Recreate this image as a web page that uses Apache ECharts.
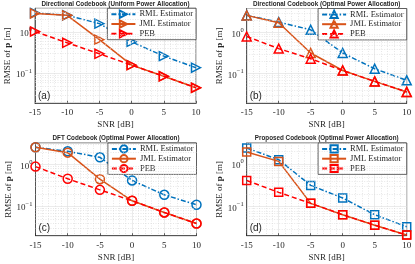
<!DOCTYPE html>
<html>
<head>
<meta charset="utf-8">
<script src="https://cdn.jsdelivr.net/npm/echarts@6/dist/echarts.min.js"></script>
<style>html,body{margin:0;padding:0;background:#fff}#c{width:415px;height:264px}</style>
</head>
<body>
<div id="c"></div>
<script>
// ---- data ----
const snr = [-15, -10, -5, 0, 5, 10];
const xTickStep = 5;
const seriesNames = ['RML Estimator', 'JML Estimator', 'PEB'];
const panelTitles = [
  'Directional Codebook (Uniform Power Allocation)',
  'Directional Codebook (Optimal Power Allocation)',
  'DFT Codebook (Optimal Power Allocation)',
  'Proposed Codebook (Optimal Power Allocation)'
];
const panelLetters = ['(a)', '(b)', '(c)', '(d)'];
const rmlA = [2.86, 2.51, 1.58, 0.575, 0.26, 0.137];
const jmlA = [2.78, 2.5, 0.65, 0.158, 0.085, 0.045];
const pebA = [1.02, 0.545, 0.296, 0.158, 0.085, 0.045];
const rmlB = [2.65, 1.82, 1.18, 0.32, 0.132, 0.069];
const jmlB = [2.65, 1.75, 0.32, 0.12, 0.065, 0.036];
const pebB = [0.81, 0.41, 0.232, 0.12, 0.065, 0.036];
const rmlC = [2.6, 2.09, 1.5, 0.42, 0.19, 0.11];
const jmlC = [2.6, 1.94, 0.45, 0.137, 0.072, 0.039];
const pebC = [0.9, 0.46, 0.25, 0.137, 0.072, 0.039];
const rmlD = [2.37, 1.26, 0.316, 0.16, 0.065, 0.034];
const jmlD = [1.91, 1.15, 0.12, 0.065, 0.037, 0.0217];
const pebD = [0.41, 0.217, 0.12, 0.065, 0.037, 0.0217];

// ---- layout / style ----
const COLORS = ['#0072BD', '#D95319', '#FF0000'];
const DASH = [[5, 2, 1.5, 2], 'solid', [5, 3]];
const SERIF = 'Liberation Serif';
const panels = [
  {sym: 'triangle', rot: -90, data: [rmlA, jmlA, pebA], yMin: 0.019, yMax: 3.7, g: {left: 35, top: 8.3, w: 161, h: 95}},
  {sym: 'triangle', rot: 0, data: [rmlB, jmlB, pebB], yMin: 0.019, yMax: 3.9, g: {left: 246.7, top: 8.5, w: 160, h: 94.8}},
  {sym: 'circle', rot: 0, data: [rmlC, jmlC, pebC], yMin: 0.02, yMax: 3.3, g: {left: 35.5, top: 143, w: 161, h: 92.7}},
  {sym: 'rect', rot: 0, data: [rmlD, jmlD, pebD], yMin: 0.021, yMax: 3.1, g: {left: 246.7, top: 143, w: 160, h: 92.7}}
];

const grids = [], xAxes = [], yAxes = [], series = [], legends = [], graphics = [];
panels.forEach((p, i) => {
  const g = p.g;
  grids.push({left: g.left, top: g.top, width: g.w, height: g.h, show: true, borderColor: '#262626', borderWidth: 0.7, containLabel: false});
  xAxes.push({
    type: 'value', gridIndex: i, min: snr[0], max: snr[snr.length - 1], interval: xTickStep,
    name: 'SNR [dB]', nameLocation: 'middle', nameGap: 17,
    nameTextStyle: {fontFamily: SERIF, fontSize: 9, color: '#262626'},
    axisLine: {onZero: false, lineStyle: {color: '#262626', width: 0.7}},
    axisTick: {inside: true, length: 2.5, lineStyle: {color: '#262626', width: 0.7}},
    axisLabel: {fontFamily: SERIF, fontSize: 9, color: '#262626', margin: 5},
    splitLine: {show: true, lineStyle: {color: '#e3e3e3', width: 0.7}},
    minorTick: {show: false, splitNumber: 5},
    minorSplitLine: {show: true, lineStyle: {color: '#d6d6d6', width: 0.6, type: [1, 1.5]}}
  });
  yAxes.push({
    type: 'log', gridIndex: i, min: p.yMin, max: p.yMax, logBase: 10,
    name: 'RMSE of {b|p} [m]', nameLocation: 'middle', nameGap: 20,
    nameTextStyle: {fontFamily: SERIF, fontSize: 9, color: '#262626', rich: {b: {fontFamily: SERIF, fontSize: 9, fontWeight: 'bold', color: '#262626'}}},
    axisLine: {onZero: false, lineStyle: {color: '#262626', width: 0.7}},
    axisTick: {show: false},
    axisLabel: {
      margin: 3, color: '#262626',
      formatter: v => {
        const e = Math.round(Math.log10(v));
        if (Math.abs(Math.log10(v) - e) > 1e-6) return '';
        return '{n|10}{s|' + (e < 0 ? '\u2212' + (-e) : e) + '}';
      },
      rich: {
        n: {fontFamily: SERIF, fontSize: 9, color: '#262626', verticalAlign: 'bottom'},
        s: {fontFamily: SERIF, fontSize: 6.5, color: '#262626', verticalAlign: 'bottom', padding: [0, 0, 5, 0]}
      }
    },
    splitLine: {show: true, lineStyle: {color: '#e3e3e3', width: 0.7}}
  });
  // minor log grid lines (2..9 x decades) via markLine on the y axis scale
  const minor = [];
  for (let e = -3; e <= 1; e++) for (let k = 2; k <= 9; k++) {
    const v = k * Math.pow(10, e);
    if (v > p.yMin && v < p.yMax) minor.push({yAxis: v});
  }
  series.push({
    name: 'minor' + i, type: 'line', xAxisIndex: i, yAxisIndex: i, data: [], silent: true, z: 1,
    markLine: {silent: true, symbol: 'none', label: {show: false}, animation: false,
      lineStyle: {color: '#d6d6d6', width: 0.6, type: [1, 1.5]}, data: minor}
  });
  const legendData = [];
  seriesNames.forEach((nm, j) => {
    const full = nm + '|' + i;
    legendData.push(full);
    series.push({
      name: full, type: 'line', xAxisIndex: i, yAxisIndex: i,
      data: snr.map((x, k) => [x, p.data[j][k]]),
      symbol: p.sym, symbolSize: p.sym === 'rect' ? 8 : 9, symbolRotate: p.rot, showAllSymbol: true,
      lineStyle: {color: COLORS[j], width: 1.5, type: DASH[j]},
      itemStyle: {color: 'rgba(255,255,255,0)', borderColor: COLORS[j], borderWidth: 1.5},
      emphasis: {disabled: true}, animation: false, z: 3 + j
    });
  });
  legends.push({
    data: legendData, orient: 'vertical', align: 'left',
    right: 415 - (g.left + g.w), top: g.top,
    padding: [1, 3, 1, 3], itemGap: 0, itemWidth: 24, itemHeight: 9,
    borderColor: '#262626', borderWidth: 0.7, backgroundColor: '#fff',
    formatter: n => n.split('|')[0],
    textStyle: {fontFamily: SERIF, fontSize: 8.5, color: '#262626', lineHeight: 9.8, padding: [0, 0, 0, -1]},
    selectedMode: false
  });
  graphics.push({type: 'text', x: g.left + g.w / 2, y: g.top - 4.3, z: 10,
    style: {text: panelTitles[i], font: 'bold 6.3px "Liberation Sans"', fill: '#262626', textAlign: 'center', textVerticalAlign: 'middle'}});
  graphics.push({type: 'text', x: g.left + 3, y: g.top + g.h - 7.5, z: 10,
    style: {text: panelLetters[i], font: '10px "Liberation Sans"', fill: '#262626', textAlign: 'left', textVerticalAlign: 'middle'}});
});

const chart = echarts.init(document.getElementById('c'), null, {renderer: 'canvas'});
chart.setOption({
  animation: false,
  grid: grids, xAxis: xAxes, yAxis: yAxes, series: series, legend: legends, graphic: graphics
});
</script>
</body>
</html>
